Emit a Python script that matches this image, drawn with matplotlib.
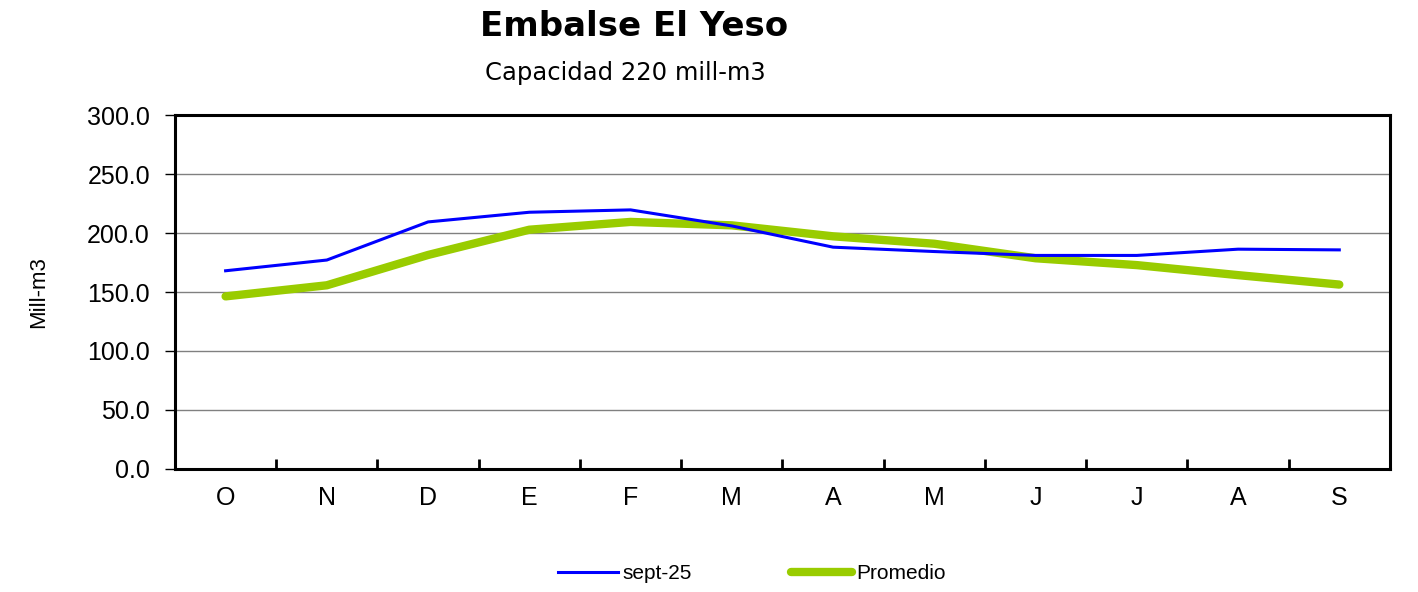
import matplotlib.pyplot as plt

# Datos
meses = ['O', 'N', 'D', 'E', 'F', 'M', 'A', 'M', 'J', 'J', 'A', 'S']
sept25 = [168.0, 177.1, 209.4, 217.6, 219.6, 206.0, 188.0, 184.3, 181.0, 181.0, 186.3, 185.7]
promedio = [146.3, 155.7, 181.4, 202.8, 209.4, 206.5, 197.2, 190.9, 178.6, 172.8, 164.3, 156.3]

plt.rcParams['font.family'] = ['Liberation Sans', 'DejaVu Sans']

fig = plt.figure(figsize=(14.18, 5.92), dpi=100)
ax = fig.add_axes([0.1234, 0.2078, 0.8568, 0.5979])

x = range(len(meses))
ax.plot(x, sept25, color='#0000FF', lw=2.2, label='sept-25', zorder=3)
ax.plot(x, promedio, color='#99CC00', lw=6, label='Promedio', solid_capstyle='round', zorder=2)

ax.set_xlim(-0.5, 11.5)
ax.set_ylim(0, 300)
ax.set_yticks(range(0, 301, 50))
ax.set_yticklabels([f'{v:.1f}' for v in range(0, 301, 50)], fontsize=18)
ax.set_xticks(x)
ax.set_xticklabels(meses, fontsize=18)
ax.tick_params(axis='x', length=0, pad=12)
ax.tick_params(axis='y', length=7, width=1, direction='out', pad=11)
ax.set_xticks([i + 0.5 for i in range(11)], minor=True)
ax.tick_params(axis='x', which='minor', direction='in', length=7, width=2)
ax.yaxis.grid(True, color='#808080', lw=1)
ax.set_axisbelow(True)
for s in ax.spines.values():
    s.set_linewidth(2.2)
ax.set_ylabel('Mill-m3', fontsize=16, labelpad=27)

fig.text(0.447, 0.955, 'Embalse El Yeso', ha='center', va='center',
         fontsize=24.5, fontweight='bold', family='DejaVu Sans')
fig.text(0.441, 0.876, 'Capacidad 220 mill-m3', ha='center', va='center',
         fontsize=17.5, family='DejaVu Sans')

fig.legend(loc='center', bbox_to_anchor=(0.53, 0.031), ncol=2, frameon=False,
           fontsize=15, handlelength=2.9, handletextpad=0.2, columnspacing=4.8)

fig.savefig('out.png', dpi=100)
